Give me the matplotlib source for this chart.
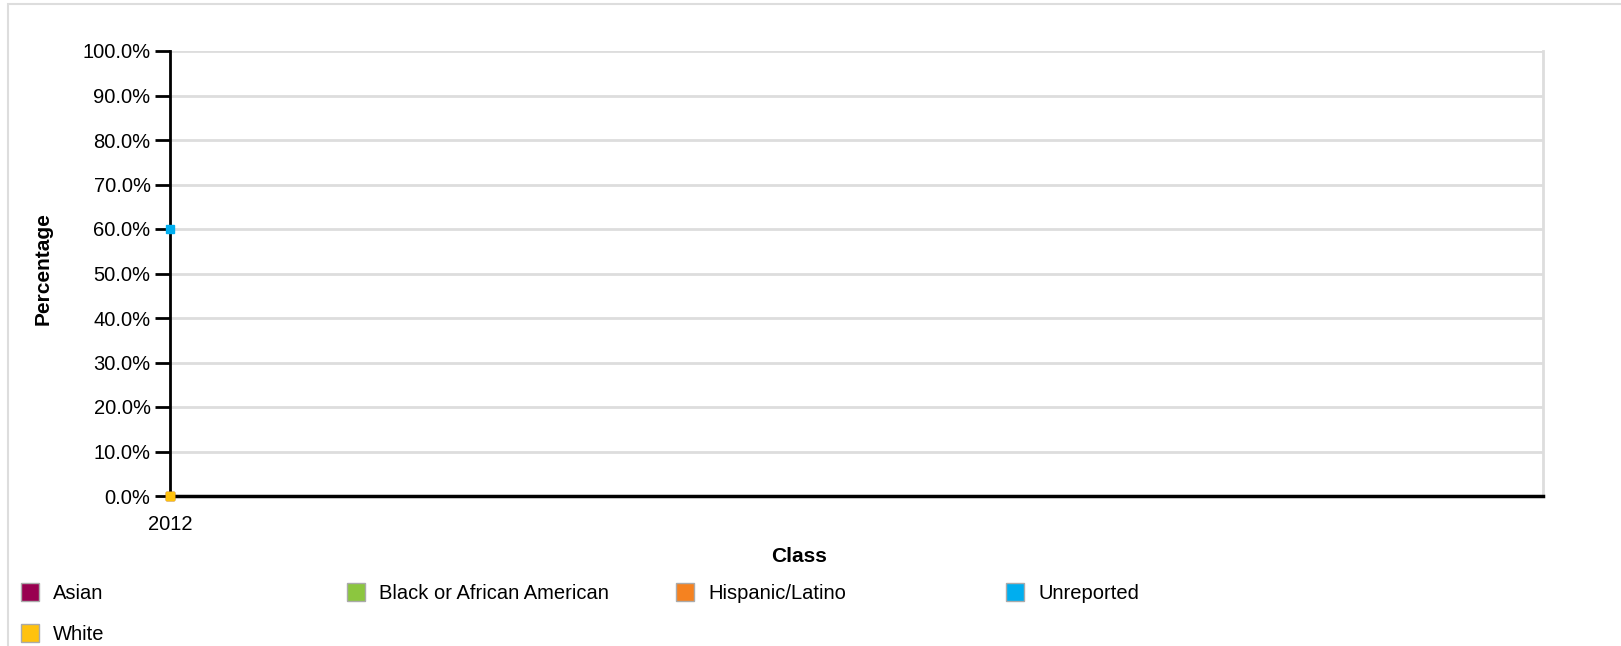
import matplotlib
matplotlib.use("Agg")
import matplotlib.pyplot as plt
from matplotlib.lines import Line2D
from matplotlib.patches import Rectangle

plt.rcParams['font.family'] = ['Liberation Sans', 'DejaVu Sans']

# data
years = ["2012"]
groups = ["Asian", "Black or African American", "Hispanic/Latino",
	"Unreported", "White"]
values = [[0.0], [0.0], [0.0], [60.0], [0.0]]
colors = ["#990050", "#8cc63f", "#f58220", "#00aeef", "#ffc20e"]
yticks = [0, 10, 20, 30, 40, 50, 60, 70, 80, 90, 100]

fig = plt.figure(figsize=(16.21, 6.46), dpi=100)
ax = fig.add_axes([170 / 1621, 1 - 496 / 646, (1543 - 170) / 1621,
	(496 - 51) / 646])

# outer frame
fig.patches.append(Rectangle((8 / 1621, -0.01), 1.0, 1 - 4 / 646 + 0.01,
	transform=fig.transFigure, fill=False, edgecolor="#dddddd",
	linewidth=1.5))

x = list(range(len(years)))
for name, vals, c in zip(groups, values, colors):
	ax.plot(x, vals, marker="s", markersize=5.5, color=c, linestyle="-",
		clip_on=False, zorder=5)

ax.set_xlim(0, 1)
ax.set_ylim(0, 100)
ax.set_yticks(yticks)
ax.set_yticklabels(["{0:.1f}%".format(v) for v in yticks], fontsize=14.5)
ax.set_xticks(x)
ax.set_xticklabels(years, fontsize=14.5)
ax.tick_params(axis="y", length=11, width=2, pad=3)
ax.tick_params(axis="x", length=0, pad=14)

ax.grid(axis="y", color="#dddddd", linewidth=2)
ax.set_axisbelow(True)
ax.spines["top"].set_visible(False)
ax.spines["right"].set_color("#dddddd")
ax.spines["right"].set_linewidth(2)
ax.spines["left"].set_linewidth(2)
ax.spines["bottom"].set_linewidth(2.5)

fig.text(43 / 1621, 1 - 269 / 646, "Percentage", rotation=90,
	fontsize=15, fontweight="bold", ha="center", va="center")
fig.text(799 / 1621, 1 - 557 / 646, "Class", fontsize=15,
	fontweight="bold", ha="center", va="center")

# legend, four columns of equal width
col_x = [21, 347, 676, 1006]
for col in range(4):
	handles = []
	for i in range(col, len(groups), 4):
		handles.append(Line2D([], [], marker="s", linestyle="none",
			markersize=13, markerfacecolor=colors[i],
			markeredgecolor="#aaaaaa", markeredgewidth=1,
			label=groups[i]))
	fig.legend(handles=handles, loc="upper left",
		bbox_to_anchor=(col_x[col] / 1621, 1 - 584 / 646),
		frameon=False, fontsize=14.5, handlelength=0.9,
		handletextpad=0.7, labelspacing=1.1, borderpad=0,
		borderaxespad=0)

plt.savefig("out.png", dpi=100)
